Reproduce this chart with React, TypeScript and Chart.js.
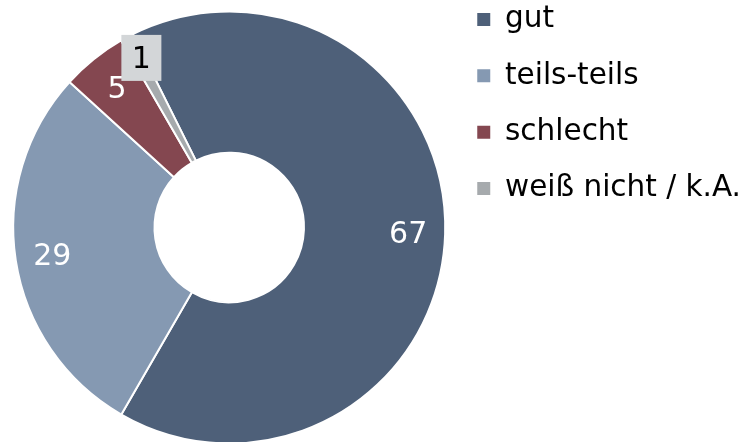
import React, { useEffect, useRef } from "react";
import { Chart, registerables } from "chart.js";

Chart.register(...registerables);

const categories = ["gut", "teils-teils", "schlecht", "weiß nicht / k.A."];
const values = [67, 29, 5, 1];
const colors = ["#4E6079", "#8599B2", "#844750", "#A6AAAD"];
const labelColors = ["#FFFFFF", "#FFFFFF", "#FFFFFF", "#000000"];

const CANVAS_W = 751;
const CANVAS_H = 499;
const CANVAS_TOP = -22.5;

const valueLabels = {
  id: "valueLabels",
  afterDatasetsDraw(chart: any) {
    const ctx = chart.ctx;
    const meta = chart.getDatasetMeta(0);
    const data = chart.data.datasets[0].data as number[];
    const total = data.reduce((a, b) => a + b, 0);
    ctx.save();
    ctx.font = "30px 'DejaVu Sans'";
    ctx.textAlign = "center";
    ctx.textBaseline = "middle";
    meta.data.forEach((arc: any, i: number) => {
      const { x, y, startAngle, endAngle, outerRadius } = arc.getProps(
        ["x", "y", "startAngle", "endAngle", "outerRadius"],
        true
      );
      const mid = (startAngle + endAngle) / 2;
      const small = data[i] / total < 0.03;
      const ang = small ? (mid + endAngle) / 2 : mid;
      const r = small ? outerRadius - 25 : outerRadius - 37;
      const px = x + Math.cos(ang) * r;
      const py = y + Math.sin(ang) * r;
      if (small) {
        ctx.fillStyle = "#D3D6D8";
        ctx.fillRect(px - 20, py - 23, 40, 46);
      }
      ctx.fillStyle = labelColors[i];
      ctx.fillText(String(data[i]), px, py + 2);
    });
    ctx.restore();
  },
};

export default function App() {
  const ref = useRef<HTMLCanvasElement | null>(null);

  useEffect(() => {
    if (!ref.current) return;
    Chart.defaults.font.family = "'DejaVu Sans'";
    const baseGen = (Chart as any).overrides.doughnut.plugins.legend.labels.generateLabels;
    const chart = new Chart(ref.current, {
      type: "doughnut",
      data: {
        labels: categories,
        datasets: [
          {
            data: values,
            backgroundColor: colors,
            borderColor: "#FFFFFF",
            borderWidth: 2,
          },
        ],
      },
      options: {
        responsive: false,
        animation: false,
        events: [],
        rotation: -26.5,
        radius: 216,
        cutout: "34.6%",
        layout: { padding: { left: 8, right: 0, top: 0, bottom: 0 } },
        plugins: {
          tooltip: { enabled: false },
          legend: {
            position: "right",
            align: "start",
            labels: {
              boxWidth: 13,
              boxHeight: 13,
              padding: 26.8,
              color: "#000000",
              font: { family: "'DejaVu Sans'", size: 29.5 },
              generateLabels: (c: any) =>
                baseGen(c).map((it: any) => ({ ...it, lineWidth: 0, strokeStyle: "rgba(0,0,0,0)" })),
            },
          },
        },
      },
      plugins: [valueLabels],
    });
    return () => chart.destroy();
  }, []);

  return (
    <div
      style={{
        position: "fixed",
        left: 0,
        top: 0,
        width: 748,
        height: 442,
        overflow: "hidden",
        background: "#FFFFFF",
      }}
    >
      <div style={{ position: "absolute", left: 0, top: CANVAS_TOP, width: CANVAS_W, height: CANVAS_H }}>
        <canvas ref={ref} width={CANVAS_W} height={CANVAS_H} style={{ display: "block" }} />
      </div>
    </div>
  );
}
